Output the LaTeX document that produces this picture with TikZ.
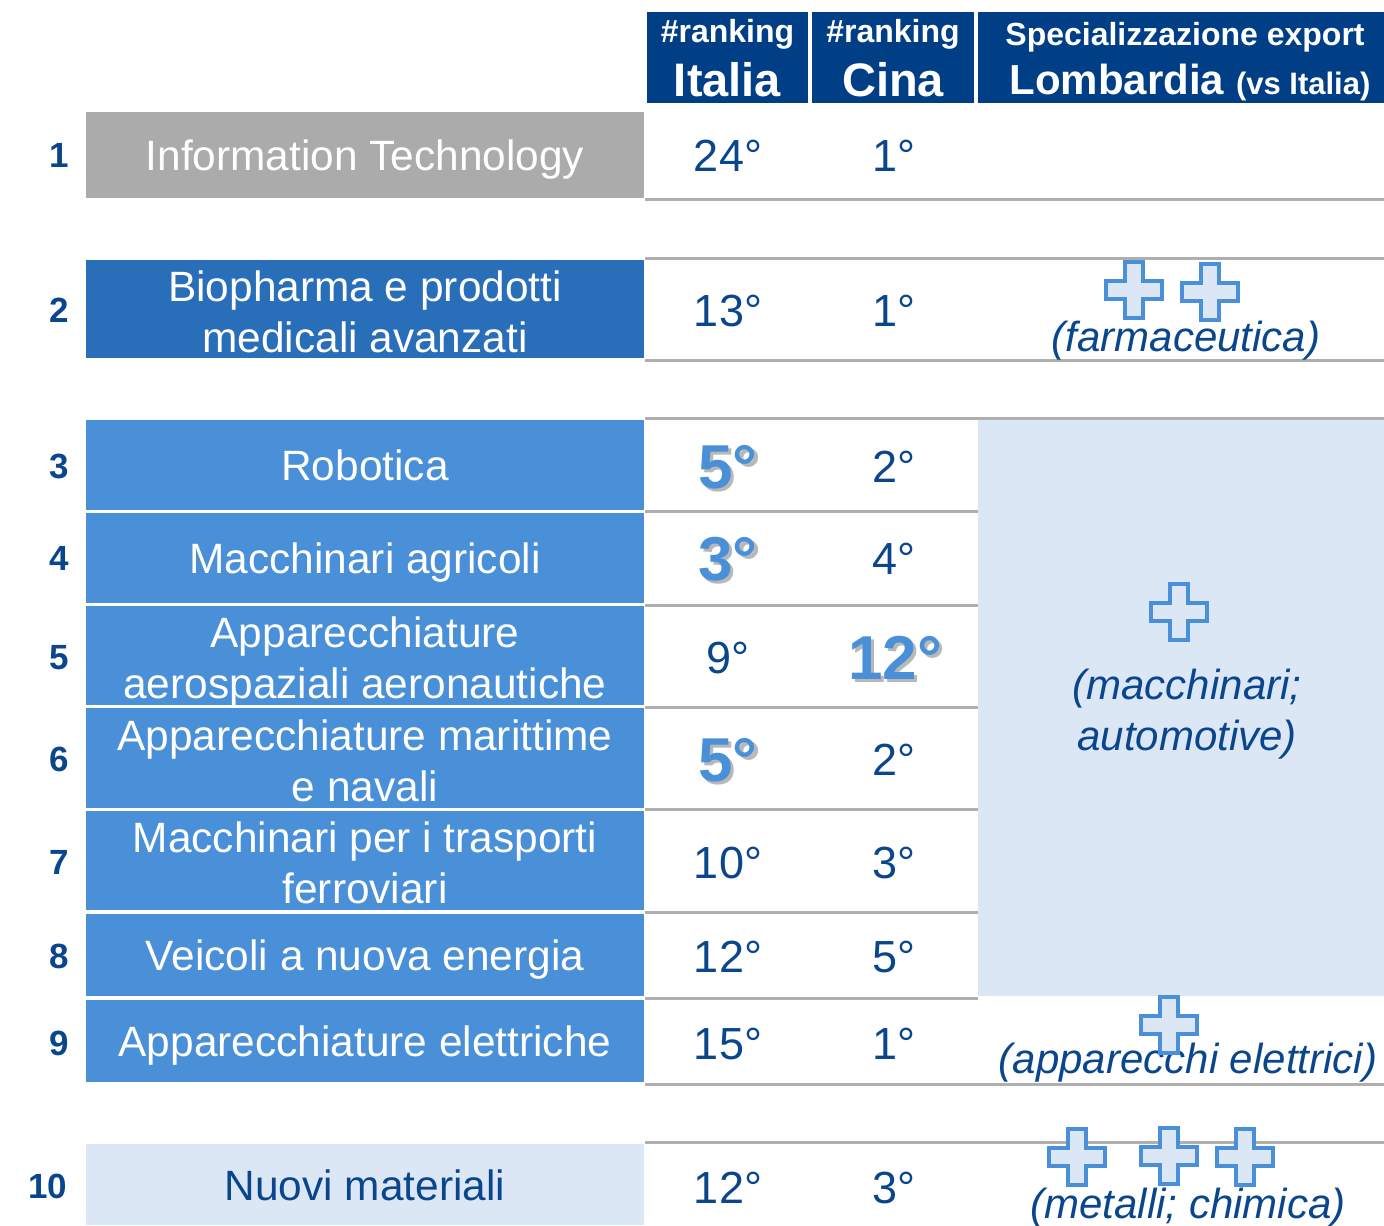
\documentclass[tikz,border=0pt]{standalone}
\usepackage{fontspec}
\setmainfont{Liberation Sans}
\usepackage{tikz}
\usetikzlibrary{positioning}
\definecolor{navyhead}{RGB}{0,62,134}
\definecolor{itgray}{RGB}{171,171,171}
\definecolor{pharmablue}{RGB}{40,110,185}
\definecolor{rowblue}{RGB}{74,144,217}
\definecolor{paleblue}{RGB}{220,231,246}
\definecolor{inkblue}{RGB}{10,70,140}
\definecolor{rulegray}{RGB}{175,175,175}
\newcommand{\hotnum}[1]{{\color{black!28}\rlap{\hspace{1.6pt}\raisebox{-1.6pt}{#1}}}#1}
\newcommand{\tops}{\rule{0pt}{22.5pt}}
\newcommand{\bots}{\rule[-5pt]{0pt}{5pt}}
\tikzset{
	plus/.pic={\draw[rowblue,fill=paleblue,line width=2pt]
		(-9,-28) -- (9,-28) -- (9,-9) -- (28,-9) -- (28,9) -- (9,9) -- (9,28)
		-- (-9,28) -- (-9,9) -- (-28,9) -- (-28,-9) -- (-9,-9) -- cycle;},
	rule/.style={rulegray,line width=1.5pt},
	oneline/.style={text height=15.5pt,text depth=0pt}
}

\begin{document}
\begin{tikzpicture}[x=0.5pt,y=-0.5pt]
	\useasboundingbox (0,0) rectangle (1384,1225);

	\begin{scope}[every node/.style={fill=navyhead,inner sep=0pt,minimum height=45.5pt}]
	    \node[minimum width=80.5pt] (H1) at (727.5,57.5) {};
	    \node[minimum width=81pt] (H2) at (893,57.5) {};
	    \node[minimum width=203pt] (H3) at (1181,57.5) {};
	\end{scope}

	\begin{scope}[every node/.style={text=white,anchor=base,inner sep=0pt}]
	    \node[font=\fontsize{16}{18}\selectfont\bfseries] (R1) at (727.5,43) {\#ranking};
	    \node[font=\fontsize{23.5}{26}\selectfont\bfseries] (T1) at (727.5,97) {Italia};
	    \node[font=\fontsize{16}{18}\selectfont\bfseries] (R2) at (893,43) {\#ranking};
	    \node[font=\fontsize{23.5}{26}\selectfont\bfseries] (T2) at (893,97) {Cina};
	    \node[font=\fontsize{16}{18}\selectfont\bfseries] (R3) at (1185,46) {Specializzazione export};
	    \node[font=\fontsize{21}{24}\selectfont\bfseries] (T3) at (1190,95)
	        {Lombardia {\fontsize{15.5}{18}\selectfont(vs Italia)}};
	\end{scope}

	\node[fill=paleblue,inner sep=0pt,minimum width=203pt,minimum height=288pt] (panel) at (1181,708) {};

	\draw[rule] (645,200) -- (1384,200);
	\draw[rule] (645,258) -- (1384,258);
	\draw[rule] (645,360) -- (1384,360);
	\draw[rule] (645,418) -- (1384,418);
	\foreach \y in {511,605,707,809,912,998}
	    \draw[rule] (645,\y) -- (978,\y);
	\draw[rule] (645,1084) -- (1384,1084);
	\draw[rule] (645,1142) -- (1384,1142);

	\begin{scope}[every node/.style={inner sep=0pt,minimum width=279pt}]
	    \node[fill=itgray,minimum height=43pt] (C1) at (365,155) {};
	    \node[fill=pharmablue,minimum height=49pt] (C2) at (365,309) {};
	    \node[fill=rowblue,minimum height=45pt] (C3) at (365,465) {};
	    \node[fill=rowblue,minimum height=45pt] (C4) at (365,558) {};
	    \node[fill=rowblue,minimum height=49.5pt] (C5) at (365,655.5) {};
	    \node[fill=rowblue,minimum height=50pt] (C6) at (365,758) {};
	    \node[fill=rowblue,minimum height=49.5pt] (C7) at (365,860.5) {};
	    \node[fill=rowblue,minimum height=41pt] (C8) at (365,955) {};
	    \node[fill=rowblue,minimum height=41pt] (C9) at (365,1041) {};
	    \node[fill=paleblue,minimum height=40.5pt] (C10) at (365,1184.5) {};
	\end{scope}

	\begin{scope}[every node/.style={inner sep=0pt,align=center,text=white,
	              font=\fontsize{21.2}{25.5}\selectfont}]
	    \node[oneline] (L1) at (C1) {Information Technology};
	    \node (L2) at (C2) {\tops Biopharma e prodotti\\medicali avanzati\bots};
	    \node[oneline] (L3) at (C3) {Robotica};
	    \node[oneline] (L4) at (C4) {Macchinari agricoli};
	    \node (L5) at (C5) {\tops Apparecchiature\\aerospaziali aeronautiche\bots};
	    \node (L6) at (C6) {\tops Apparecchiature marittime\\e navali\bots};
	    \node (L7) at (C7) {\tops Macchinari per i trasporti\\ferroviari\bots};
	    \node[oneline] (L8) at (C8) {Veicoli a nuova energia};
	    \node[oneline] (L9) at (C9) {Apparecchiature elettriche};
	    \node[oneline,text=inkblue] (L10) at (C10) {Nuovi materiali};
	\end{scope}

	\begin{scope}[every node/.style={inner sep=0pt,text=inkblue,text height=12.5pt,text depth=0pt,
	              font=\fontsize{17.5}{20}\selectfont\bfseries}]
	    \node (N1) at (59,155) {1};
	    \node (N2) at (59,310) {2};
	    \node (N3) at (59,466) {3};
	    \node (N4) at (59,558) {4};
	    \node (N5) at (59,657) {5};
	    \node (N6) at (59,759) {6};
	    \node (N7) at (59,862) {7};
	    \node (N8) at (59,956) {8};
	    \node (N9) at (59,1043) {9};
	    \node (N10) at (48,1186) {10};
	\end{scope}

	\begin{scope}[every node/.style={inner sep=0pt,text=inkblue,text height=16.1pt,text depth=0pt,
	              font=\fontsize{22.5}{26}\selectfont},
	              hot/.style={text=rowblue,text height=22.2pt,font=\fontsize{31}{34}\selectfont\bfseries}]
	    \node (I1) at (728,155) {24°};
	    \node (K1) at (894,155) {1°};
	    \node (I2) at (728,310) {13°};
	    \node (K2) at (894,310) {1°};
	    \node[hot] (I3) at (728,466) {\hotnum{5°}};
	    \node (K3) at (894,466) {2°};
	    \node[hot] (I4) at (728,558) {\hotnum{3°}};
	    \node (K4) at (894,558) {4°};
	    \node (I5) at (728,657) {9°};
	    \node[hot] (K5) at (895,657) {\hotnum{12°}};
	    \node[hot] (I6) at (728,759) {\hotnum{5°}};
	    \node (K6) at (894,759) {2°};
	    \node (I7) at (728,862) {10°};
	    \node (K7) at (894,862) {3°};
	    \node (I8) at (728,956) {12°};
	    \node (K8) at (894,956) {5°};
	    \node (I9) at (728,1043) {15°};
	    \node (K9) at (894,1043) {1°};
	    \node (I10) at (728,1187) {12°};
	    \node (K10) at (894,1187) {3°};
	\end{scope}

	\begin{scope}[every node/.style={inner sep=0pt,text=inkblue,align=center,
	              font=\fontsize{21}{25.5}\selectfont\itshape}]
	    \node[anchor=base] (S2) at (1186,351) {(farmaceutica)};
	    \node (S3) at (1187,714) {(macchinari;\\automotive)};
	    \node[anchor=base] (S9) at (1188,1073) {(apparecchi elettrici)};
	    \node[anchor=base] (S10) at (1188,1218) {(metalli; chimica)};
	\end{scope}

	\pic at (1134,290) {plus};
	\pic at (1210,292) {plus};
	\pic at (1179,612) {plus};
	\pic at (1169,1025) {plus};
	\pic at (1077,1157) {plus};
	\pic at (1169,1156) {plus};
	\pic at (1245,1157) {plus};
\end{tikzpicture}
\end{document}
